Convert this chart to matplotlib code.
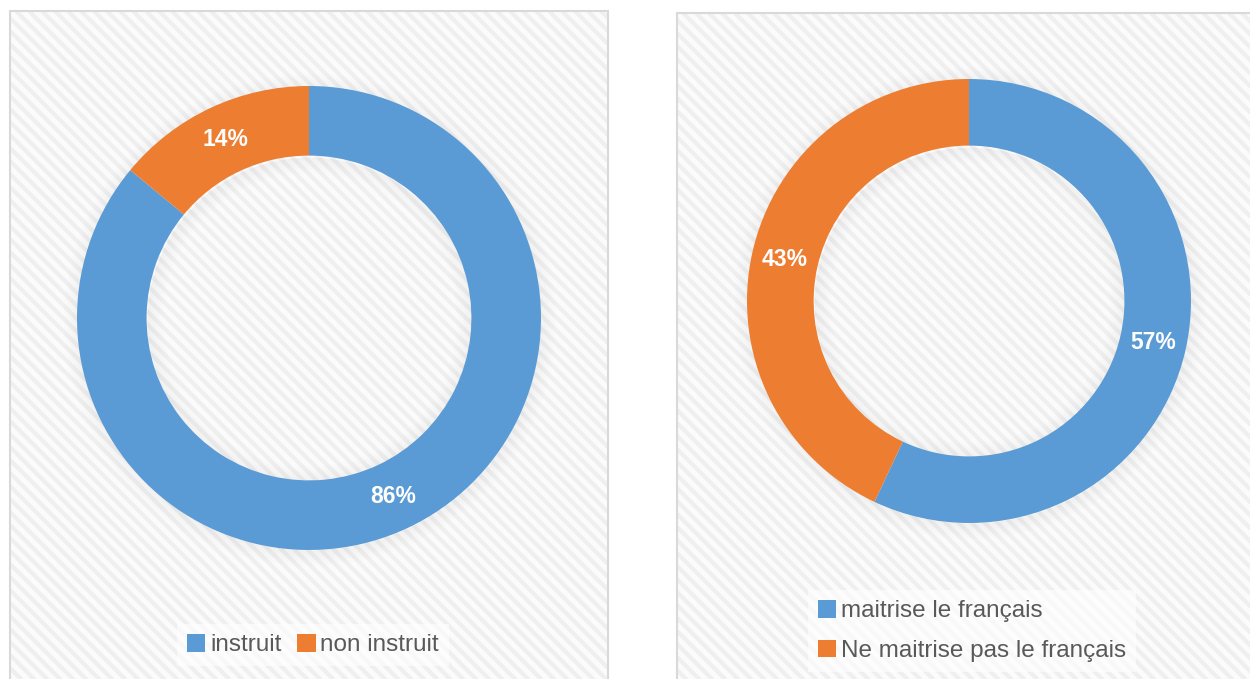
import matplotlib
matplotlib.use("Agg")
import matplotlib.pyplot as plt
import numpy as np
from matplotlib.patches import Rectangle, Wedge
from matplotlib.collections import LineCollection

plt.rcParams['font.family'] = ['Liberation Sans', 'DejaVu Sans']

# data
labels_left = ["instruit", "non instruit"]
values_left = [86, 14]
labels_right = ["maitrise le français", "Ne maitrise pas le français"]
values_right = [57, 43]
colors = ["#5B9BD5", "#ED7D31"]

W, H = 1250, 679
fig = plt.figure(figsize=(W / 100, H / 100), dpi=100)
ax = fig.add_axes([0, 0, 1, 1])


def py(y):
    # pixel row (from top) -> axis y
    return H - y


def panel(x0, x1, ytop):
    top = py(ytop)
    bg = Rectangle((x0, -5), x1 - x0, top + 5, facecolor="#FBFBFB",
                   linewidth=0, zorder=0)
    ax.add_patch(bg)
    # diagonal stripes, top-left to bottom-right, clipped to the panel
    segs = []
    for s in np.arange(x0 - 800, x1, 13):
        xa, ya = s, top
        if xa < x0:
            ya, xa = top - (x0 - xa), x0
        xb = min(s + top + 5, x1)
        yb = top - (xb - s)
        if xb > xa:
            segs.append([(xa, ya), (xb, yb)])
    lc = LineCollection(segs, colors="#EFEFEF", linewidths=3.0, zorder=0.5)
    ax.add_collection(lc)
    lc.set_clip_path(bg)
    ax.add_patch(Rectangle((x0, -5), x1 - x0, top + 5, fill=False,
                           edgecolor="#D9D9D9", linewidth=1.5, zorder=1))


def donut(values, cx, cy, R):
    c = (cx, py(cy))
    w = 0.3 * R
    # soft shadow glow around the ring
    for k in range(10):
        a = 0.04 * (1 - k / 10)
        ax.add_patch(Wedge((c[0] + 1, c[1] - 2), R + k * 1.6, 0, 360, width=1.6,
                           facecolor="black", alpha=a, linewidth=0, zorder=2))
        ax.add_patch(Wedge((c[0] + 1, c[1] - 2), R - w - k * 1.6, 0, 360, width=1.6,
                           facecolor="black", alpha=a, linewidth=0, zorder=2))
    wedges, texts, autotexts = ax.pie(
        values, colors=colors, startangle=90, counterclock=False, center=c, radius=R,
        autopct="%1.0f%%", pctdistance=0.85,
        wedgeprops=dict(width=w, linewidth=0),
        textprops=dict(color="white", fontsize=16.5, fontweight="bold"))
    for wd in wedges:
        wd.set_zorder(3)
    for t in autotexts:
        t.set_zorder(4)
    return wedges


panel(10, 608, 11)
panel(677, 1262, 13)

wl = donut(values_left, 309, 318, 232)
wr = donut(values_right, 969, 301, 222)

ax.set_xlim(0, W)
ax.set_ylim(0, H)
ax.set_aspect("auto")
ax.axis("off")

leg1 = ax.legend(wl, labels_left, loc="center", ncol=2,
                 bbox_to_anchor=(313 / W, 1 - 645 / H), bbox_transform=fig.transFigure,
                 fontsize=17.5, handlelength=0.75, handleheight=0.75, handletextpad=0.2,
                 columnspacing=0.65, frameon=True, fancybox=False, borderpad=0.4)
leg1.get_frame().set_facecolor("white")
leg1.get_frame().set_alpha(0.6)
leg1.get_frame().set_linewidth(0)
for t in leg1.get_texts():
    t.set_color("#595959")
ax.add_artist(leg1)

leg2 = ax.legend(wr, labels_right, loc="center",
                 bbox_to_anchor=(972 / W, 1 - 631 / H), bbox_transform=fig.transFigure,
                 fontsize=17.5, handlelength=0.75, handleheight=0.75, handletextpad=0.2,
                 labelspacing=0.7, frameon=True, fancybox=False, borderpad=0.4)
leg2.get_frame().set_facecolor("white")
leg2.get_frame().set_alpha(0.6)
leg2.get_frame().set_linewidth(0)
for t in leg2.get_texts():
    t.set_color("#595959")

fig.savefig("out.png", dpi=100, facecolor="white")
